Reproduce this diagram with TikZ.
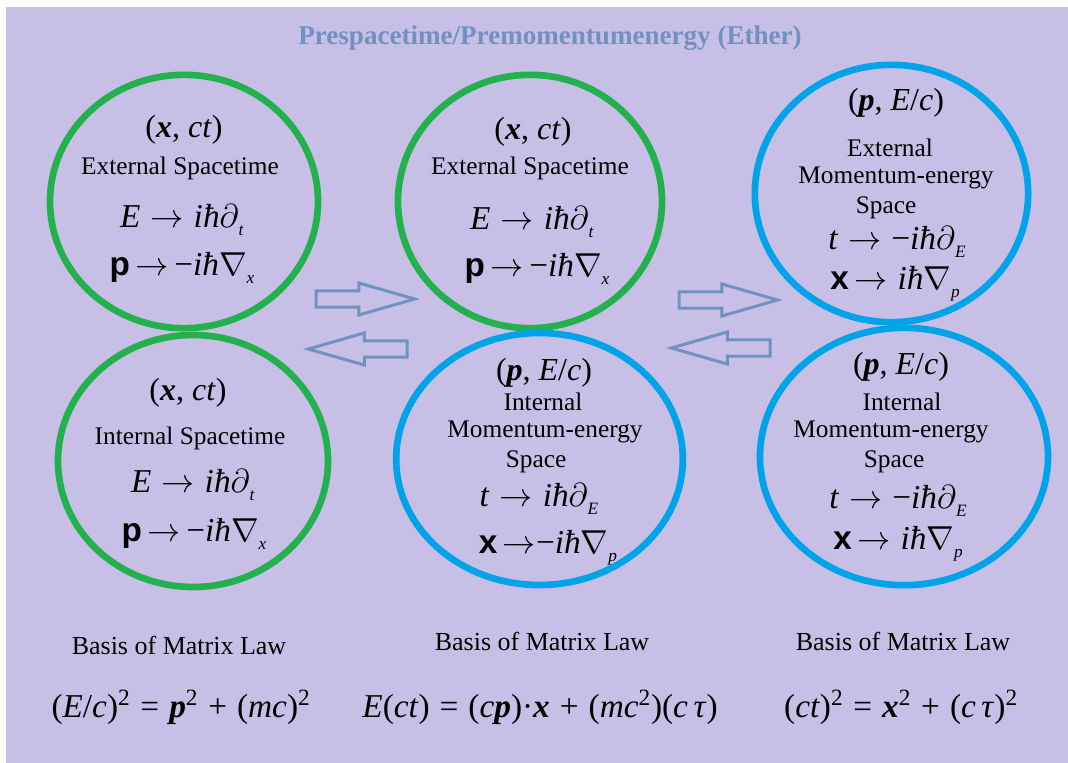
\documentclass[tikz,border=0pt]{standalone}
\usepackage{fontspec}
\usepackage{graphicx}
\setmainfont{Liberation Serif}
\newfontfamily\opsans{Liberation Sans}
\usetikzlibrary{shapes.geometric,shapes.arrows}
\definecolor{etherLav}{RGB}{200,191,231}
\definecolor{spaceGreen}{RGB}{34,177,76}
\definecolor{momBlue}{RGB}{0,162,232}
\definecolor{arrowSteel}{RGB}{112,146,190}
\newcommand{\opP}{{\opsans\bfseries p}}
\newcommand{\opX}{{\opsans\bfseries x}}
\newcommand{\lowsub}[1]{\raisebox{-0.5ex}{\fontsize{13}{13}\selectfont\textit{#1}}}
\newcommand{\opsp}{\hspace{0.3em}}
\tikzset{
  ring/.style={ellipse, line width=5pt, inner sep=0pt},
  greenring/.style={ring, draw=spaceGreen},
  bluering/.style={ring, draw=momBlue},
  coords/.style={font=\fontsize{24}{26}\selectfont, inner sep=0pt},
  spacename/.style={font=\fontsize{19}{21}\selectfont, inner sep=0pt},
  opline/.style={font=\fontsize{25}{27}\selectfont, inner sep=0pt},
  lawname/.style={font=\fontsize{19.5}{22}\selectfont, inner sep=0pt},
  lawmath/.style={font=\fontsize{25}{27}\selectfont, inner sep=0pt},
  swaparrow/.style={single arrow, draw=arrowSteel, line width=2.25pt,
    minimum height=74pt, single arrow head extend=6pt,
    single arrow tip angle=32, inner xsep=0pt, inner ysep=4.9pt, anchor=tail}
}

\begin{document}
\begin{tikzpicture}[x=0.75pt, y=-0.75pt]
\useasboundingbox (0,0) rectangle (1068,763);
\fill[white] (0,0) rectangle (1068,763);
\fill[etherLav] (6,7) rectangle (1068,763);

\node[font=\fontsize{20.3}{22}\selectfont\bfseries, text=arrowSteel, inner sep=0pt] (ether) at (550,38) {Prespacetime/Premomentumenergy (Ether)};

% spacetime circles
\node[greenring, minimum width=201pt, minimum height=190pt] (stTL) at (184,201.5) {};
\node[greenring, minimum width=202.5pt, minimum height=189pt] (stBL) at (193,461) {};
\node[greenring, minimum width=198pt, minimum height=190pt] (stTM) at (530,201.5) {};

% momentum-energy circles
\node[bluering, minimum width=215pt, minimum height=189pt] (meBM) at (539.5,459) {};
\node[bluering, minimum width=205pt, minimum height=193pt] (meTR) at (891.5,193.5) {};
\node[bluering, minimum width=216pt, minimum height=193pt] (meBR) at (904,456.5) {};

% texts, external spacetime (left)
\node[coords] (stTLa) at (184,130) {(\textbf{\textit{x}}, \textit{ct})};
\node[spacename] (stTLb) at (180,168) {External Spacetime};
\node[opline] (stTLc) at (182,220) {\textit{E}\opsp$\rightarrow$\opsp\textit{iħ}$\partial$\lowsub{t}};
\node[opline] (stTLd) at (182,268) {\opP\,$\rightarrow$\,−\textit{iħ}$\nabla$\lowsub{x}};

% internal spacetime
\node[coords] (stBLa) at (188,393) {(\textbf{\textit{x}}, \textit{ct})};
\node[spacename] (stBLb) at (190,438) {Internal Spacetime};
\node[opline] (stBLc) at (193,485) {\textit{E}\opsp$\rightarrow$\opsp\textit{iħ}$\partial$\lowsub{t}};
\node[opline] (stBLd) at (194,534) {\opP\,$\rightarrow$\,−\textit{iħ}$\nabla$\lowsub{x}};

% external spacetime (middle)
\node[coords] (stTMa) at (533,132) {(\textbf{\textit{x}}, \textit{ct})};
\node[spacename] (stTMb) at (530,168) {External Spacetime};
\node[opline] (stTMc) at (532,222) {\textit{E}\opsp$\rightarrow$\opsp\textit{iħ}$\partial$\lowsub{t}};
\node[opline] (stTMd) at (537,269) {\opP\,$\rightarrow$\,−\textit{iħ}$\nabla$\lowsub{x}};

% internal momentum-energy (middle)
\node[coords] (meBMa) at (544,373) {(\textbf{\textit{p}}, \textit{E}/\textit{c})};
\node[spacename] (meBMb) at (543,402) {Internal};
\node[spacename] (meBMc) at (545,432) {Momentum-energy};
\node[spacename] (meBMd) at (536,462) {Space};
\node[opline] (meBMe) at (539,499) {\textit{t}\opsp$\rightarrow$\opsp\textit{iħ}$\partial$\lowsub{E}};
\node[opline] (meBMf) at (548,548) {\opX\,$\rightarrow$−\textit{iħ}$\nabla$\lowsub{p}};

% external momentum-energy
\node[coords] (meTRa) at (896,103) {(\textbf{\textit{p}}, \textit{E}/\textit{c})};
\node[spacename] (meTRb) at (890,148) {External};
\node[spacename] (meTRc) at (896,178) {Momentum-energy};
\node[spacename] (meTRd) at (886,208) {Space};
\node[opline] (meTRe) at (897,242) {\textit{t}\opsp$\rightarrow$\opsp−\textit{iħ}$\partial$\lowsub{E}};
\node[opline] (meTRf) at (895,284) {\opX\,$\rightarrow$\opsp\textit{iħ}$\nabla$\lowsub{p}};

% internal momentum-energy (right)
\node[coords] (meBRa) at (901,367) {(\textbf{\textit{p}}, \textit{E}/\textit{c})};
\node[spacename] (meBRb) at (902,402) {Internal};
\node[spacename] (meBRc) at (891,432) {Momentum-energy};
\node[spacename] (meBRd) at (894,462) {Space};
\node[opline] (meBRe) at (898,501) {\textit{t}\opsp$\rightarrow$\opsp−\textit{iħ}$\partial$\lowsub{E}};
\node[opline] (meBRf) at (898,544) {\opX\,$\rightarrow$\opsp\textit{iħ}$\nabla$\lowsub{p}};

% block arrows
\node[swaparrow] (toRightA) at (314.5,299) {};
\node[swaparrow, shape border rotate=180] (toLeftA) at (408.5,349) {};
\node[swaparrow] (toRightB) at (677.5,300) {};
\node[swaparrow, shape border rotate=180] (toLeftB) at (771.5,348) {};

% matrix laws
\node[lawname] (lawA) at (179,645) {Basis of Matrix Law};
\node[lawname] (lawB) at (542,641) {Basis of Matrix Law};
\node[lawname] (lawC) at (903,641) {Basis of Matrix Law};
\node[lawmath] (eqA) at (181,707) {(\textit{E}/\textit{c})\textsuperscript{2}\opsp=\opsp\textbf{\textit{p}}\textsuperscript{2}\opsp+\opsp(\textit{mc})\textsuperscript{2}};
\node[lawmath] (eqB) at (540,707) {\textit{E}(\textit{ct})\opsp=\opsp(\textit{c}\textbf{\textit{p}})·\textbf{\textit{x}}\opsp+\opsp(\textit{mc}\textsuperscript{2})(\textit{c\,τ})};
\node[lawmath] (eqC) at (901,707) {(\textit{ct})\textsuperscript{2}\opsp=\opsp\textbf{\textit{x}}\textsuperscript{2}\opsp+\opsp(\textit{c\,τ})\textsuperscript{2}};
\end{tikzpicture}
\end{document}
